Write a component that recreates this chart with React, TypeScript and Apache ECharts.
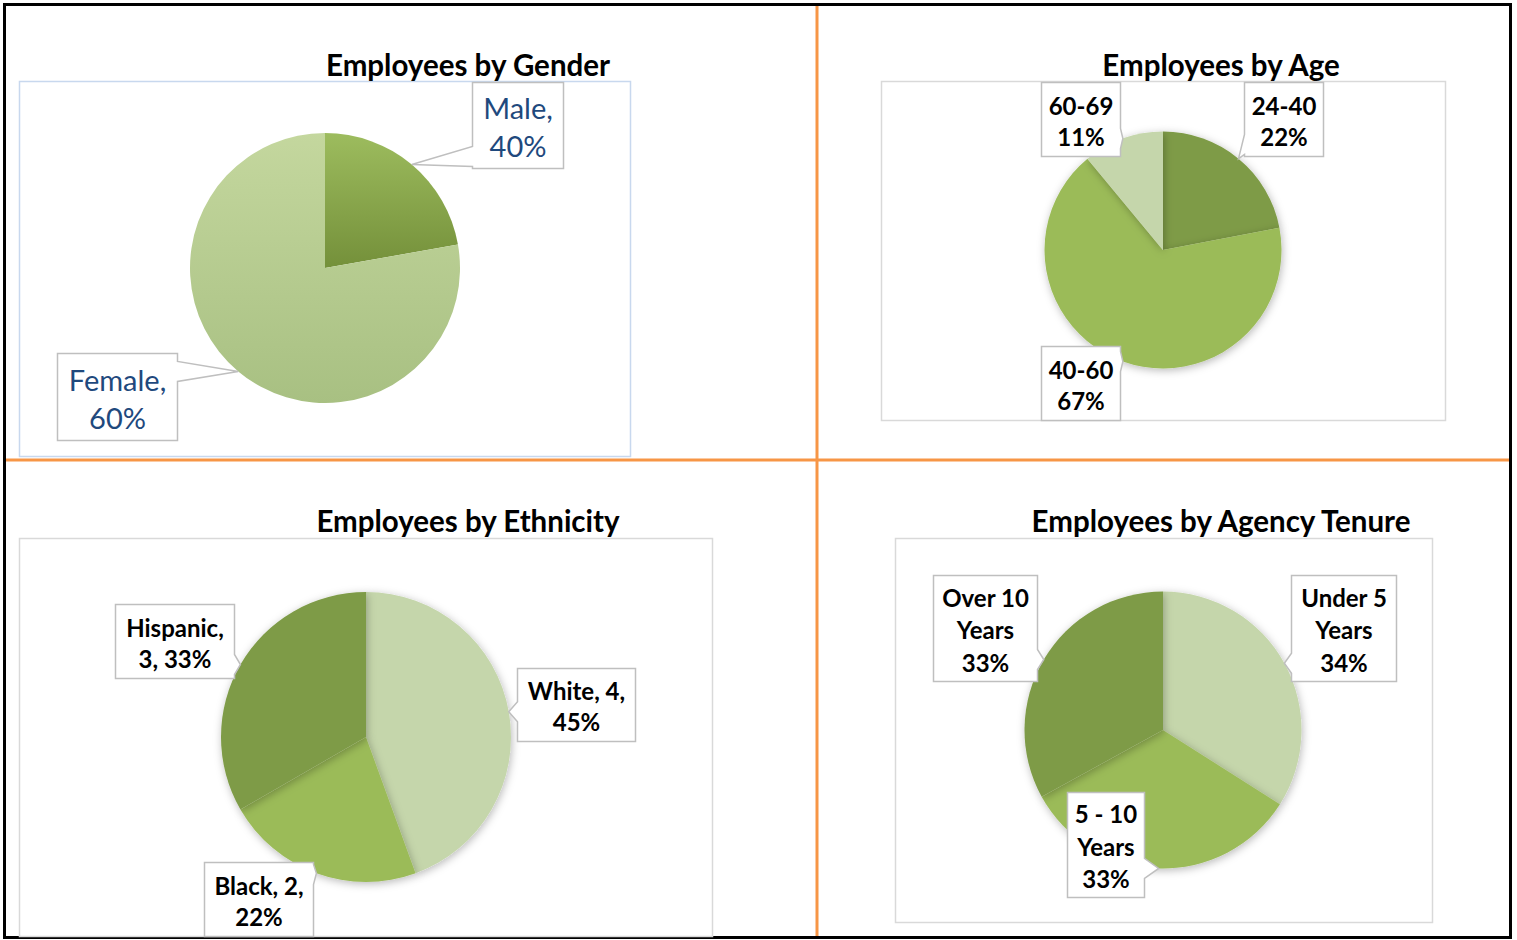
import React, { useEffect, useRef } from 'react';
import * as echarts from 'echarts';

// ---------------- data ----------------
const genderNames = ['Male', 'Female'];
const genderValues = [2, 7];
const genderPct = ['40%', '60%'];

const ageNames = ['24-40', '40-60', '60-69'];
const ageValues = [22, 67, 11];

const ethnicityNames = ['White', 'Black', 'Hispanic'];
const ethnicityValues = [4, 2, 3];
const ethnicityPct = ['45%', '22%', '33%'];

const tenureNames = ['Under 5 Years', '5 - 10 Years', 'Over 10 Years'];
const tenureValues = [34, 33, 33];

// ---------------- styles ----------------
const FONT = 'Lato, "Open Sans", "Noto Sans", sans-serif';
const DARK = '#7E9B47';
const MID = '#9BBB59';
const LIGHT = '#C5D6AB';
const ORANGE = '#F79646';

const grad = (c0: string, c1: string) =>
  new echarts.graphic.LinearGradient(0, 0, 0, 1, [
    { offset: 0, color: c0 },
    { offset: 1, color: c1 },
  ]);

type Panel = {
  title: string;
  titleX: number;
  titleY: number;
  frame: number[];
  frameColor: string;
  center: number[];
  r: number;
  names: string[];
  values: number[];
  colors: any[];
  texts: string[];
  boxes: number[][];
  font: string;
  color: string;
  lineHeight: number;
  shadow: boolean;
};

const BOLD_LABEL = `700 24px ${FONT}`;

const panels: Panel[] = [
  {
    title: 'Employees by Gender',
    titleX: 468,
    titleY: 64,
    frame: [19.5, 81.5, 611, 375],
    frameColor: '#C8D8EE',
    center: [325, 268],
    r: 135,
    names: genderNames,
    values: genderValues,
    colors: [grad('#9DBC5E', '#74903A'), grad('#C4D79E', '#A8C082')],
    texts: genderNames.map((n, i) => `${n},\n${genderPct[i]}`),
    boxes: [
      [472.5, 82.5, 91, 86],
      [57.5, 353.5, 120, 87],
    ],
    font: `400 29px ${FONT}`,
    color: '#1F497D',
    lineHeight: 38,
    shadow: false,
  },
  {
    title: 'Employees by Age',
    titleX: 1221,
    titleY: 64,
    frame: [881.5, 81.5, 564, 339],
    frameColor: '#D9D9D9',
    center: [1163, 250],
    r: 118.5,
    names: ageNames,
    values: ageValues,
    colors: [DARK, MID, LIGHT],
    texts: ageNames.map((n, i) => `${n}\n${ageValues[i]}%`),
    boxes: [
      [1244.5, 82.5, 79, 74],
      [1041.5, 346.5, 79, 74],
      [1041.5, 82.5, 79, 74],
    ],
    font: BOLD_LABEL,
    color: '#000000',
    lineHeight: 31,
    shadow: true,
  },
  {
    title: 'Employees by Ethnicity',
    titleX: 468,
    titleY: 520,
    frame: [19.5, 538.5, 693, 398],
    frameColor: '#D9D9D9',
    center: [366, 737],
    r: 145,
    names: ethnicityNames,
    values: ethnicityValues,
    colors: [LIGHT, MID, DARK],
    texts: ethnicityNames.map((n, i) =>
      n === 'Hispanic'
        ? `${n},\n${ethnicityValues[i]}, ${ethnicityPct[i]}`
        : `${n}, ${ethnicityValues[i]},\n${ethnicityPct[i]}`
    ),
    boxes: [
      [517.5, 668.5, 118, 73],
      [204.5, 862.5, 109, 74],
      [115.5, 604.5, 119, 74],
    ],
    font: BOLD_LABEL,
    color: '#000000',
    lineHeight: 31,
    shadow: true,
  },
  {
    title: 'Employees by Agency Tenure',
    titleX: 1221,
    titleY: 520,
    frame: [895.5, 538.5, 537, 384],
    frameColor: '#D9D9D9',
    center: [1163, 730],
    r: 138.5,
    names: tenureNames,
    values: tenureValues,
    colors: [LIGHT, MID, DARK],
    texts: tenureNames.map((n, i) => `${n.replace(' Years', '\nYears')}\n${tenureValues[i]}%`),
    boxes: [
      [1291.5, 575.5, 105, 106],
      [1067.5, 792.5, 77, 105],
      [933.5, 575.5, 104, 106],
    ],
    font: BOLD_LABEL,
    color: '#000000',
    lineHeight: 32.5,
    shadow: true,
  },
];

const clamp = (v: number, a: number, b: number) => Math.max(a, Math.min(b, v));

// tip of the callout: middle of the slice, on its rim
function sliceTips(p: Panel) {
  const total = p.values.reduce((s, v) => s + v, 0);
  let cum = 0;
  return p.values.map((v) => {
    const a = ((cum + v / 2) / total) * Math.PI * 2;
    cum += v;
    return [p.center[0] + p.r * Math.sin(a), p.center[1] - p.r * Math.cos(a)];
  });
}

function calloutPoints(box: number[], tip: number[], half = 10) {
  const [x, y, w, h] = box;
  const x1 = x + w;
  const y1 = y + h;
  const [tx, ty] = tip;
  if (tx < x) {
    const c = clamp(ty, y + half + 2, y1 - half - 2);
    return [[x, y], [x1, y], [x1, y1], [x, y1], [x, c + half], [tx, ty], [x, c - half]];
  }
  if (tx > x1) {
    const c = clamp(ty, y + half + 2, y1 - half - 2);
    return [[x, y], [x1, y], [x1, c - half], [tx, ty], [x1, c + half], [x1, y1], [x, y1]];
  }
  if (ty > y1) {
    const c = clamp(tx, x + half + 2, x1 - half - 2);
    return [[x, y], [x1, y], [x1, y1], [c + half, y1], [tx, ty], [c - half, y1], [x, y1]];
  }
  const c = clamp(tx, x + half + 2, x1 - half - 2);
  return [[x, y], [c - half, y], [tx, ty], [c + half, y], [x1, y], [x1, y1], [x, y1]];
}

function buildOption() {
  const series: any[] = panels.map((p) => ({
    type: 'pie',
    center: p.center,
    radius: p.r,
    startAngle: 90,
    clockwise: true,
    silent: true,
    label: { show: false },
    labelLine: { show: false },
    itemStyle: p.shadow
      ? { shadowBlur: 8, shadowColor: 'rgba(0,0,0,0.28)', shadowOffsetX: 1, shadowOffsetY: 2 }
      : {},
    emphasis: { disabled: true },
    data: p.names.map((n, i) => ({
      name: n,
      value: p.values[i],
      itemStyle: { color: p.colors[i] },
    })),
  }));

  const graphic: any[] = [];
  // page frame and quadrant dividers
  graphic.push({
    type: 'rect',
    z: 1,
    shape: { x: 4.5, y: 4.5, width: 1506, height: 933 },
    style: { fill: 'none', stroke: '#000', lineWidth: 3 },
  });
  graphic.push({
    type: 'line',
    z: 2,
    shape: { x1: 817, y1: 6, x2: 817, y2: 936 },
    style: { stroke: ORANGE, lineWidth: 3 },
  });
  graphic.push({
    type: 'line',
    z: 2,
    shape: { x1: 6, y1: 460, x2: 1509, y2: 460 },
    style: { stroke: ORANGE, lineWidth: 3 },
  });

  panels.forEach((p) => {
    graphic.push({
      type: 'rect',
      z: 1,
      shape: { x: p.frame[0], y: p.frame[1], width: p.frame[2], height: p.frame[3] },
      style: { fill: 'none', stroke: p.frameColor, lineWidth: 1.5 },
    });
    graphic.push({
      type: 'text',
      z: 5,
      x: p.titleX,
      y: p.titleY,
      style: {
        text: p.title,
        font: `700 29.5px ${FONT}`,
        fill: '#000',
        align: 'center',
        verticalAlign: 'middle',
      },
    });
    const tips = sliceTips(p);
    p.boxes.forEach((b, i) => {
      graphic.push({
        type: 'polygon',
        z: 100,
        shape: { points: calloutPoints(b, tips[i]) },
        style: { fill: '#fff', stroke: '#BFBFBF', lineWidth: 1.5 },
      });
      graphic.push({
        type: 'text',
        z: 101,
        x: b[0] + b[2] / 2,
        y: b[1] + b[3] / 2 + 1,
        style: {
          text: p.texts[i],
          font: p.font,
          fill: p.color,
          align: 'center',
          verticalAlign: 'middle',
          lineHeight: p.lineHeight,
        },
      });
    });
  });

  return {
    animation: false,
    backgroundColor: '#fff',
    series,
    graphic,
  };
}

export default function App() {
  const ref = useRef<HTMLDivElement>(null);
  useEffect(() => {
    if (!ref.current) return;
    const chart = echarts.init(ref.current, undefined, { renderer: 'svg' });
    chart.setOption(buildOption() as any);
    return () => chart.dispose();
  }, []);
  return (
    <div
      ref={ref}
      style={{ position: 'absolute', left: 0, top: 0, width: 1517, height: 940 }}
    />
  );
}
